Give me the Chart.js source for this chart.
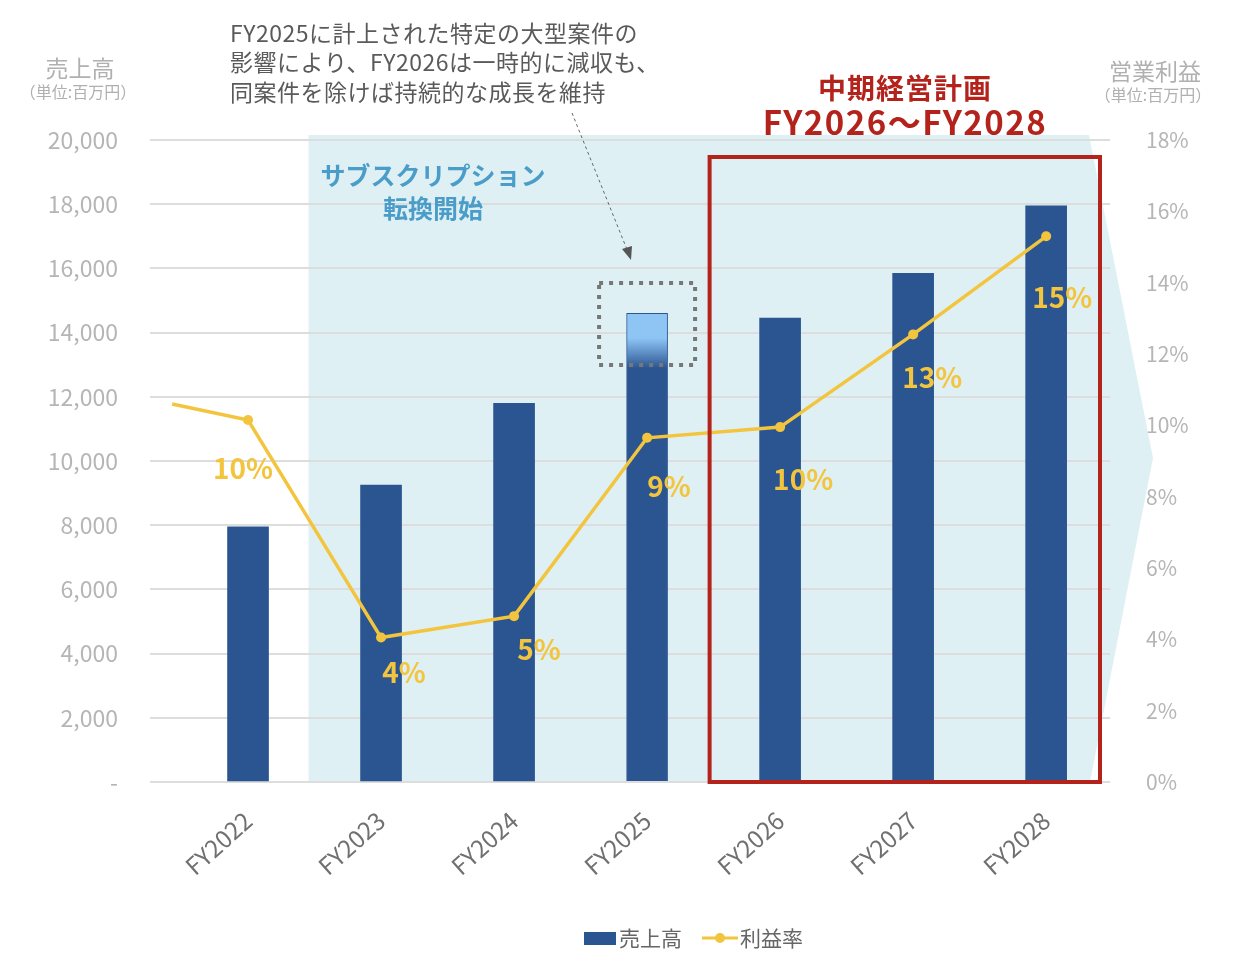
<!DOCTYPE html>
<html lang="ja">
<head>
<meta charset="utf-8">
<script src="https://cdn.jsdelivr.net/npm/chart.js@4.4.1/dist/chart.umd.min.js"></script>
<style>
  html, body { margin: 0; padding: 0; background: #fff; }
  #wrap { width: 1250px; height: 968px; }
</style>
</head>
<body>
<div id="wrap"><canvas id="chart" width="1250" height="968"></canvas></div>
<script>
// 年度と売上高（百万円）
const years = ['FY2022', 'FY2023', 'FY2024', 'FY2025', 'FY2026', 'FY2027', 'FY2028'];
const sales = [7950, 9250, 11800, 14600, 14450, 15850, 17950];
// 利益率（%）: 先頭は左端からの線の始点
const marginX = [-0.57, 0, 1, 2, 3, 4, 5, 6];
const margin = [10.6, 10.15, 4.05, 4.65, 9.65, 9.95, 12.55, 15.3];
const marginLabels = ['', '10%', '4%', '5%', '9%', '10%', '13%', '15%'];
const salesTicks = [0, 2000, 4000, 6000, 8000, 10000, 12000, 14000, 16000, 18000, 20000];

const FONT = '"Noto Sans CJK JP", "Noto Sans", sans-serif';
const BLUE = '#2b5591';
const YELLOW = '#f3c53e';
const RED = '#b3231c';

// ラベルの点からのずれ（px）
const labelDx = [0, -5, 23, 25, 22, 23, 19, 16];
const labelDy = [0, 48, 35, 33, 49, 52, 43, 61];

// 背景の矢印型シェード
const shadePlugin = {
    id: 'shade',
    beforeDraw(chart) {
        const ctx = chart.ctx;
        const x = chart.scales.x;
        const area = chart.chartArea;
        const left = (x.getPixelForValue(0) + x.getPixelForValue(1)) / 2 - 6;
        ctx.save();
        ctx.fillStyle = '#dff0f5';
        ctx.beginPath();
        ctx.moveTo(left, area.top - 5);
        ctx.lineTo(1089, area.top - 5);
        ctx.lineTo(1153, 458);
        ctx.lineTo(1090, area.bottom);
        ctx.lineTo(left, area.bottom);
        ctx.closePath();
        ctx.fill();
        ctx.restore();
    }
};

// 注記・ラベル・凡例
const overlayPlugin = {
    id: 'overlay',
    afterDatasetsDraw(chart) {
        const ctx = chart.ctx;
        const x = chart.scales.x;
        const area = chart.chartArea;
        ctx.save();

        // 利益率ラベル
        const meta = chart.getDatasetMeta(1);
        ctx.font = 'bold 28px ' + FONT;
        ctx.fillStyle = YELLOW;
        ctx.textAlign = 'center';
        ctx.textBaseline = 'middle';
        meta.data.forEach((pt, i) => {
            if (!marginLabels[i]) return;
            ctx.fillText(marginLabels[i], pt.x + labelDx[i], pt.y + labelDy[i]);
        });

        // 中期経営計画の赤枠
        const bx0 = (x.getPixelForValue(3) + x.getPixelForValue(4)) / 2 - 4;
        ctx.strokeStyle = RED;
        ctx.lineWidth = 4;
        ctx.strokeRect(bx0, 157, 1100 - bx0, area.bottom - 157);

        // FY2025 の点線枠
        const cx = x.getPixelForValue(3);
        ctx.strokeStyle = '#777';
        ctx.lineWidth = 4;
        ctx.setLineDash([4, 6]);
        ctx.strokeRect(cx - 48, 283, 96, 82);

        // 注記からの矢印
        ctx.lineWidth = 1;
        ctx.setLineDash([3, 3]);
        ctx.strokeStyle = '#666';
        ctx.beginPath();
        ctx.moveTo(572, 113);
        ctx.lineTo(628, 252);
        ctx.stroke();
        ctx.setLineDash([]);
        ctx.fillStyle = '#555';
        ctx.beginPath();
        ctx.moveTo(631, 260);
        ctx.lineTo(622, 249);
        ctx.lineTo(632, 246);
        ctx.closePath();
        ctx.fill();

        ctx.restore();
    },
    afterDraw(chart) {
        const ctx = chart.ctx;
        ctx.save();
        ctx.textBaseline = 'middle';

        // 注記テキスト
        ctx.fillStyle = '#5a5a5a';
        ctx.textAlign = 'left';
        ctx.font = '23px ' + FONT;
        ctx.letterSpacing = '0.5px';
        ctx.fillText('FY2025に計上された特定の大型案件の', 230, 33);
        ctx.fillText('影響により、FY2026は一時的に減収も、', 230, 62);
        ctx.fillText('同案件を除けば持続的な成長を維持', 230, 92);

        // 中期経営計画
        ctx.textAlign = 'center';
        ctx.fillStyle = RED;
        ctx.font = 'bold 28px ' + FONT;
        ctx.letterSpacing = '1px';
        ctx.fillText('中期経営計画', 905, 88);
        ctx.font = 'bold 33px ' + FONT;
        ctx.letterSpacing = '1.5px';
        ctx.fillText('FY2026～FY2028', 905, 122);
        ctx.letterSpacing = '0px';

        // サブスクリプション転換開始
        ctx.fillStyle = '#4a9dc9';
        ctx.font = 'bold 25px ' + FONT;
        ctx.fillText('サブスクリプション', 433, 175);
        ctx.fillText('転換開始', 433, 208);

        // 軸タイトル
        ctx.fillStyle = '#b0b0b0';
        ctx.font = '23px ' + FONT;
        ctx.fillText('売上高', 80, 68);
        ctx.fillText('営業利益', 1155, 71);
        ctx.font = '16px ' + FONT;
        ctx.fillText('（単位:百万円）', 78, 92);
        ctx.fillText('（単位:百万円）', 1153, 95);

        // 凡例
        const ly = 938;
        ctx.fillStyle = BLUE;
        ctx.fillRect(584, ly - 6, 32, 13);
        ctx.fillStyle = '#666';
        ctx.textAlign = 'left';
        ctx.font = '21px ' + FONT;
        ctx.fillText('売上高', 619, ly);
        ctx.strokeStyle = YELLOW;
        ctx.lineWidth = 3;
        ctx.beginPath();
        ctx.moveTo(702, ly);
        ctx.lineTo(738, ly);
        ctx.stroke();
        ctx.fillStyle = YELLOW;
        ctx.beginPath();
        ctx.arc(720, ly, 5, 0, Math.PI * 2);
        ctx.fill();
        ctx.fillStyle = '#666';
        ctx.fillText('利益率', 740, ly);

        ctx.restore();
    }
};

function barColor(c) {
    if (c.dataIndex !== 3 || !c.chart.chartArea) return BLUE;
    const y = c.chart.scales.y;
    const top = y.getPixelForValue(sales[3]);
    const g = c.chart.ctx.createLinearGradient(0, top, 0, top + 55);
    g.addColorStop(0, '#8ec5f5');
    g.addColorStop(0.45, '#8ec5f5');
    g.addColorStop(1, BLUE);
    return g;
}

new Chart(document.getElementById('chart'), {
    type: 'bar',
    data: {
        datasets: [{
            label: '売上高',
            data: sales.map((v, i) => ({ x: i, y: v })),
            backgroundColor: barColor,
            borderColor: BLUE,
            borderWidth: c => (c.dataIndex === 3 ? 1 : 0),
            barThickness: 41,
            yAxisID: 'y',
            order: 2
        }, {
            type: 'line',
            label: '利益率',
            data: margin.map((v, i) => ({ x: marginX[i], y: v })),
            borderColor: YELLOW,
            backgroundColor: YELLOW,
            borderWidth: 3.5,
            pointRadius: c => (c.dataIndex === 0 ? 0 : 5),
            pointBorderWidth: 0,
            tension: 0,
            yAxisID: 'y2',
            order: 1
        }]
    },
    options: {
        responsive: false,
        animation: false,
        layout: { padding: { top: 140, left: 0, right: 0, bottom: 0 } },
        plugins: {
            legend: { display: false },
            tooltip: { enabled: false }
        },
        scales: {
            x: {
                type: 'linear',
                offset: false,
                min: -0.737,
                max: 6.48,
                afterBuildTicks: s => { s.ticks = years.map((_, i) => ({ value: i })); },
                afterFit: s => { s.height = 186; },
                grid: { display: false },
                border: { display: false },
                ticks: {
                    callback: v => years[v],
                    color: '#707070',
                    font: { family: FONT, size: 24 },
                    minRotation: 42,
                    maxRotation: 42,
                    padding: 16
                }
            },
            y: {
                position: 'left',
                min: 0,
                max: 20000,
                afterBuildTicks: s => { s.ticks = salesTicks.map(v => ({ value: v })); },
                afterFit: s => { s.width = 150; },
                grid: { color: '#dddddd', lineWidth: 2, drawTicks: false },
                border: { display: false },
                ticks: {
                    callback: v => (v === 0 ? '-' : v.toLocaleString('en-US')),
                    color: '#b5b5b5',
                    font: { family: FONT, size: 23 },
                    padding: 32
                }
            },
            y2: {
                position: 'right',
                min: 0,
                max: 18,
                afterFit: s => { s.width = 140; },
                grid: { display: false },
                border: { display: false },
                ticks: {
                    stepSize: 2,
                    callback: v => v + '%',
                    color: '#b5b5b5',
                    font: { family: FONT, size: 21 },
                    padding: 28
                }
            }
        }
    },
    plugins: [shadePlugin, overlayPlugin]
});
</script>
</body>
</html>
